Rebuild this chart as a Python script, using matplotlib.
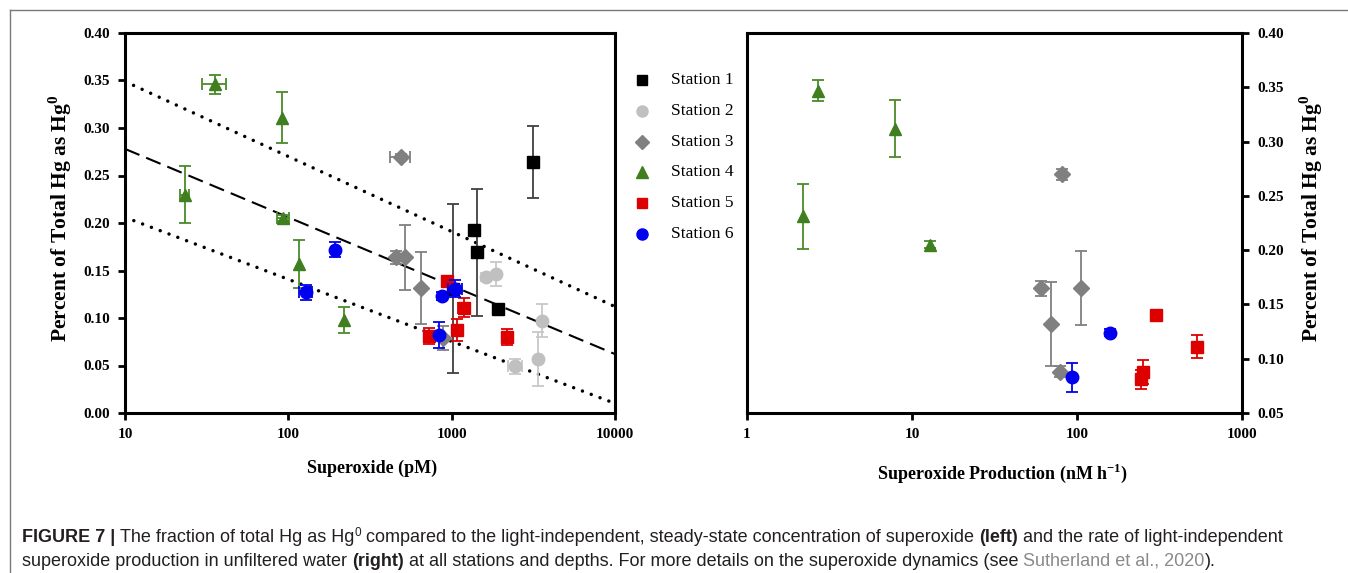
import numpy as np
import matplotlib
matplotlib.use('Agg')
import matplotlib.pyplot as plt
from matplotlib.lines import Line2D
from matplotlib.ticker import NullLocator

plt.rcParams['mathtext.fontset'] = 'custom'
plt.rcParams['mathtext.rm'] = 'Liberation Serif'
plt.rcParams['mathtext.bf'] = 'Liberation Serif:bold'

W, H = 1348, 573

# ---- data: left panel (superoxide concentration, pM) ----
st_names = ['Station 1', 'Station 2', 'Station 3', 'Station 4', 'Station 5', 'Station 6']
st_markers = ['s', 'o', 'D', '^', 's', 'o']
st_colors = ['#000000', '#c0c0c0', '#808080', '#3f7f1f', '#dd0000', '#0000ee']
st_ecolors = ['#404040', '#c8c8c8', '#808080', '#4a8a2a', '#dd0000', '#0000ee']

s1_x = [3155, 1374, 1429, 1933, 1019]
s1_y = [0.264, 0.193, 0.169, 0.110, 0.131]
s1_yerr = [0.038, 0.004, 0.067, 0.004, 0.089]
s1_xerr = [0, 0, 0, 0, 0]

s2_x = [1625, 1866, 3581, 2455, 3391]
s2_y = [0.143, 0.146, 0.097, 0.049, 0.057]
s2_yerr = [0.004, 0.0125, 0.0175, 0.008, 0.0285]
s2_xerr = [0, 0, 0, 240, 0]

s3_x = [488, 456, 515, 647, 889]
s3_y = [0.270, 0.164, 0.164, 0.132, 0.079]
s3_yerr = [0.003, 0.007, 0.034, 0.038, 0.013]
s3_xerr = [70, 0, 0, 0, 0]

s4_x = [35.7, 91.4, 23.3, 93, 116, 218]
s4_y = [0.346, 0.311, 0.230, 0.205, 0.157, 0.098]
s4_yerr = [0.010, 0.0265, 0.0295, 0.003, 0.025, 0.014]
s4_xerr = [6, 0, 1.5, 8, 0, 0]

s5_x = [931, 1194, 1082, 731, 2193]
s5_y = [0.139, 0.111, 0.087, 0.081, 0.080]
s5_yerr = [0.003, 0.010, 0.0115, 0.008, 0.008]
s5_xerr = [0, 95, 0, 0, 0]

s6_x = [192, 128, 875, 1052, 841]
s6_y = [0.172, 0.127, 0.123, 0.131, 0.082]
s6_yerr = [0.008, 0.008, 0.004, 0.009, 0.0135]
s6_xerr = [0, 12, 0, 100, 0]

# regression line and bounds: y = a + b*log10(x)
fit_mean = (0.350, -0.072)
fit_upper = (0.428, -0.079)
fit_lower = (0.2713, -0.0653)

# ---- data: right panel (superoxide production, nM/h) ----
r3_x = [81.2, 60.8, 70.0, 106, 78.5]
r3_y = [0.270, 0.165, 0.132, 0.165, 0.088]
r3_yerr = [0.005, 0.007, 0.0385, 0.034, 0.005]

r4_x = [2.70, 7.9, 2.19, 12.9]
r4_y = [0.347, 0.312, 0.231, 0.205]
r4_yerr = [0.010, 0.026, 0.0295, 0.003]

r5_x = [303, 536, 251, 243]
r5_y = [0.140, 0.111, 0.088, 0.081]
r5_yerr = [0.003, 0.0105, 0.011, 0.009]

r6_x = [159, 92.9]
r6_y = [0.124, 0.083]
r6_yerr = [0.003, 0.0135]

left_sets = [(s1_x, s1_y, s1_yerr, s1_xerr), (s2_x, s2_y, s2_yerr, s2_xerr),
             (s3_x, s3_y, s3_yerr, s3_xerr), (s4_x, s4_y, s4_yerr, s4_xerr),
             (s5_x, s5_y, s5_yerr, s5_xerr), (s6_x, s6_y, s6_yerr, s6_xerr)]
right_sets = {2: (r3_x, r3_y, r3_yerr), 3: (r4_x, r4_y, r4_yerr),
              4: (r5_x, r5_y, r5_yerr), 5: (r6_x, r6_y, r6_yerr)}

serif = 'Liberation Serif'


def px(x, y):
    return x / W, 1 - y / H


def msize(m):
    return 8 if m in ('s', 'D') else 9


def style_axes(ax):
    for sp in ax.spines.values():
        sp.set_linewidth(2.2)
    ax.tick_params(direction='out', length=5, width=2, labelsize=11, pad=6)
    ax.xaxis.set_minor_locator(NullLocator())
    for lab in ax.get_xticklabels() + ax.get_yticklabels():
        lab.set_fontfamily(serif)
        lab.set_fontweight('bold')


def draw_points(ax, i, x, y, yerr, xerr=None):
    ax.errorbar(x, y, yerr=yerr, xerr=xerr, fmt=st_markers[i], color=st_colors[i],
                ecolor=st_ecolors[i], elinewidth=1.3, capsize=4.5, capthick=1.3,
                markersize=msize(st_markers[i]), linestyle='none', zorder=3 + i)


fig = plt.figure(figsize=(W / 100, H / 100), dpi=100)

# left panel
ax1 = fig.add_axes([125 / W, 1 - 413 / H, 490 / W, 380 / H])
ax1.set_xscale('log')
xx = np.logspace(1, 4, 200)
a, b = fit_mean
ax1.plot(xx, a + b * np.log10(xx), color='black', lw=1.5, linestyle=(0, (7.5, 3.5)), zorder=2)
for a, b in (fit_upper, fit_lower):
    ax1.plot(xx, a + b * np.log10(xx), color='black', lw=2.5, linestyle=(0, (0.01, 2.7)),
             dash_capstyle='round', zorder=2)
for i, (x, y, ye, xe) in enumerate(left_sets):
    draw_points(ax1, i, x, y, ye, xe)
ax1.set_xlim(10, 10000)
ax1.set_ylim(0, 0.40)
ax1.set_xticks([10, 100, 1000, 10000], labels=['10', '100', '1000', '10000'])
ax1.set_yticks(np.arange(0, 0.401, 0.05), labels=['%.2f' % v for v in np.arange(0, 0.401, 0.05)])
style_axes(ax1)

# right panel
ax2 = fig.add_axes([747 / W, 1 - 413 / H, 495 / W, 380 / H])
ax2.set_xscale('log')
for i, (x, y, ye) in right_sets.items():
    draw_points(ax2, i, x, y, ye)
ax2.set_xlim(1, 1000)
ax2.set_ylim(0.05, 0.40)
ax2.yaxis.tick_right()
ax2.set_xticks([1, 10, 100, 1000], labels=['1', '10', '100', '1000'])
ax2.set_yticks(np.arange(0.05, 0.401, 0.05), labels=['%.2f' % v for v in np.arange(0.05, 0.401, 0.05)])
style_axes(ax2)

# axis labels
ylab = 'Percent of Total Hg as Hg$^{\\mathbf{0}}$'
fig.text(*px(60, 218), ylab, rotation=90, ha='center', va='center',
         fontsize=15.5, fontweight='bold', fontfamily=serif)
fig.text(*px(1311, 218), ylab, rotation=90, ha='center', va='center',
         fontsize=15.5, fontweight='bold', fontfamily=serif)
fig.text(*px(372, 468), 'Superoxide (pM)', ha='center', va='center',
         fontsize=13, fontweight='bold', fontfamily=serif)
fig.text(*px(1002, 473), 'Superoxide Production (nM h$^{\\mathbf{-1}}$)', ha='center', va='center',
         fontsize=13, fontweight='bold', fontfamily=serif)

# legend between the panels
for i, name in enumerate(st_names):
    yy = 80 + i * 30.8
    fig.add_artist(Line2D([642 / W], [1 - yy / H], marker=st_markers[i], color=st_colors[i],
                          markersize=msize(st_markers[i]) - 1, linestyle='none'))
    fig.text(*px(671, yy), name, ha='left', va='center', fontsize=12.5, fontfamily=serif)

# frame of the figure box
fig.add_artist(Line2D([10 / W, 1], [1 - 10 / H, 1 - 10 / H], color='#7a7a7a', lw=1))
fig.add_artist(Line2D([10 / W, 10 / W], [1 - 10 / H, 0], color='#7a7a7a', lw=1))

# caption, laid out piece by piece
cap_font = 'Liberation Sans'
cap_size = 13
cap_color = '#231f20'
renderer = fig.canvas.get_renderer()


def text_width(s, **kw):
    t = fig.text(0, 0, s, fontfamily=cap_font, **kw)
    w = t.get_window_extent(renderer).width
    t.remove()
    return w


def caption_line(x0, y0, pieces):
    x = x0
    for s, weight, color, sup in pieces:
        lead = len(s) - len(s.lstrip(' '))
        trail = len(s) - len(s.rstrip(' '))
        size = cap_size * 0.65 if sup else cap_size
        sp = text_width('a a', fontsize=size) - text_width('aa', fontsize=size)
        x += lead * sp
        core = s.strip(' ')
        dy = -6 if sup else 0
        t = fig.text(*px(x, y0 + dy), core, fontfamily=cap_font, fontsize=size,
                     fontweight=weight, color=color, va='baseline', ha='left')
        x += t.get_window_extent(renderer).width + trail * sp


caption_line(22, 542, [
    ('FIGURE 7 |', 'bold', cap_color, False),
    (' The fraction of total Hg as Hg', 'normal', cap_color, False),
    ('0', 'normal', cap_color, True),
    (' compared to the light-independent, steady-state concentration of superoxide ', 'normal', cap_color, False),
    ('(left)', 'bold', cap_color, False),
    (' and the rate of light-independent', 'normal', cap_color, False),
])
caption_line(22, 566, [
    ('superoxide production in unfiltered water ', 'normal', cap_color, False),
    ('(right)', 'bold', cap_color, False),
    (' at all stations and depths. For more details on the superoxide dynamics (see ', 'normal', cap_color, False),
    ('Sutherland et al., 2020', 'normal', '#8a8a8a', False),
    (').', 'normal', cap_color, False),
])

fig.savefig('out.png', dpi=100)
